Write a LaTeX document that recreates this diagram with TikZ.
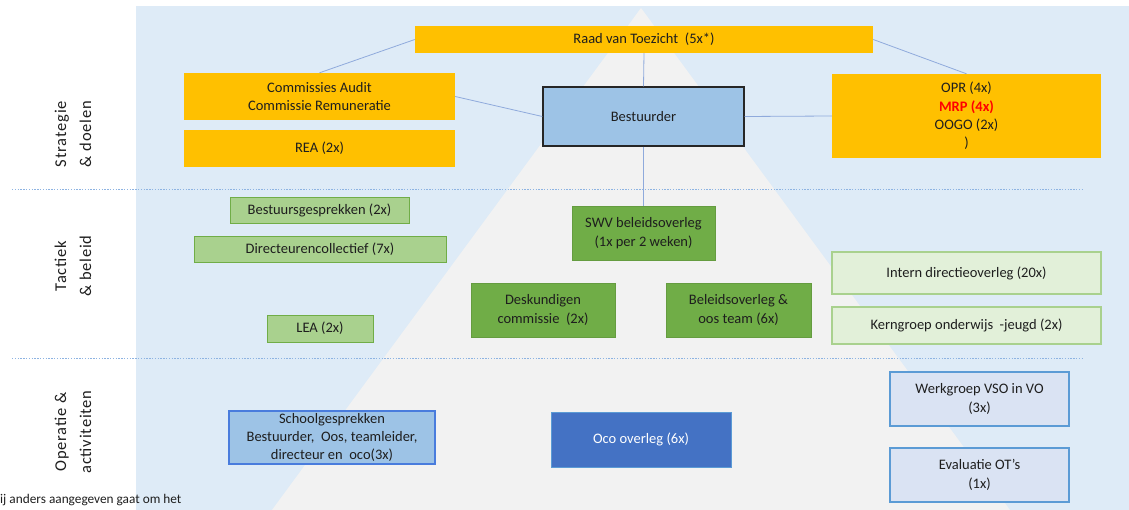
\documentclass[tikz,border=0pt]{standalone}
\usepackage{fontspec}
\setmainfont{Carlito}
\definecolor{bgblue}{HTML}{DEEBF7}
\definecolor{trigrey}{HTML}{F2F2F2}
\definecolor{orng}{HTML}{FFC000}
\definecolor{bestfill}{HTML}{9DC3E6}
\definecolor{dkgreen}{HTML}{70AD47}
\definecolor{ltgreen}{HTML}{A9D18E}
\definecolor{palegreen}{HTML}{E2F0D9}
\definecolor{midblue}{HTML}{5B9BD5}
\definecolor{ocoblue}{HTML}{4472C4}
\definecolor{lavender}{HTML}{DAE3F3}
\definecolor{connblue}{HTML}{8FAADC}
\definecolor{dotblue}{HTML}{8DB3E2}
\definecolor{txt}{HTML}{1E1E1E}
\definecolor{mrpred}{HTML}{FF0000}
\begin{document}
\begin{tikzpicture}[x=1pt,y=-1pt,
  basebox/.style={rectangle, inner sep=0pt, align=center, text=txt,
    font=\fontsize{14.5}{18.3}\selectfont},
  orangebox/.style={basebox, fill=orng},
  bestbox/.style={basebox, fill=bestfill, draw=black!85, line width=1.4pt},
  darkgreenbox/.style={basebox, fill=dkgreen, draw=dkgreen!90!black, line width=0.6pt},
  lightgreenbox/.style={basebox, fill=ltgreen, draw=dkgreen, line width=0.9pt},
  palegreenbox/.style={basebox, fill=palegreen, draw=ltgreen, line width=1.4pt},
  schoolbox/.style={basebox, fill=bestfill, draw=midblue!80!blue, line width=1.2pt},
  ocobox/.style={basebox, fill=ocoblue, draw=midblue, line width=0.8pt, text=white},
  lavbox/.style={basebox, fill=lavender, draw=midblue, line width=1.2pt},
  sidelab/.style={inner sep=0pt, align=center, text=txt,
    font=\fontsize{16.5}{25}\selectfont\addfontfeature{LetterSpace=5}},
  connector/.style={draw=connblue, line width=0.8pt},
  sepline/.style={draw=dotblue, line width=0.9pt, dash pattern=on 1.4pt off 1.4pt}
]
\useasboundingbox (0,0) rectangle (1129,510);
% backgrounds
\fill[bgblue] (136,6) rectangle (1129,510);
\begin{scope}
  \clip (0,0) rectangle (1129,510);
  \fill[trigrey] (641,8) -- (272,510) -- (1010,510) -- cycle;
\end{scope}
% separator lines
\draw[sepline] (12,189) -- (1082,189);
\draw[sepline] (12,358) -- (1084,358);
% side labels
\node[sidelab, rotate=90] (labA) at (73,134) {Strategie\\\& doelen};
\node[sidelab, rotate=90] (labB) at (73,266) {Tactiek\\\& beleid};
\node[sidelab, rotate=90] (labC) at (73,432) {Operatie \&\\activiteiten};
% strategy level
\node[orangebox, minimum width=458pt, minimum height=27pt] (raad) at (644,39.5) {Raad van Toezicht\ \ (5x*)};
\node[orangebox, minimum width=271pt, minimum height=47pt] (comm) at (319.5,96.5) {Commissies Audit\\Commissie Remuneratie};
\node[orangebox, minimum width=271pt, minimum height=37pt] (rea) at (319.5,148.5) {REA (2x)};
\node[bestbox, minimum width=201pt, minimum height=59pt] (best) at (643.5,116.5) {Bestuurder};
\node[orangebox, minimum width=269pt, minimum height=84pt] (opr) at (966.5,116) {OPR (4x)\\{\bfseries\color{mrpred}MRP (4x)}\\OOGO (2x)\\)};
% tactic level
\node[lightgreenbox, minimum width=179pt, minimum height=26pt] (bgesp) at (319.5,210) {Bestuursgesprekken (2x)};
\node[lightgreenbox, minimum width=252pt, minimum height=26pt] (dircol) at (320,249) {Directeurencollectief (7x)};
\node[lightgreenbox, minimum width=106pt, minimum height=27pt] (lea) at (320,328.5) {LEA (2x)};
\node[darkgreenbox, minimum width=143pt, minimum height=54pt] (swv) at (643.5,233) {SWV beleidsoverleg\\(1x per 2 weken)};
\node[darkgreenbox, minimum width=144pt, minimum height=54pt] (desk) at (543,310) {Deskundigen\\commissie\ \ (2x)};
\node[darkgreenbox, minimum width=145pt, minimum height=54pt] (beleid) at (738.5,310) {Beleidsoverleg \&\\oos team (6x)};
\node[palegreenbox, minimum width=269pt, minimum height=42pt] (intern) at (966.5,273) {Intern directieoverleg (20x)};
\node[palegreenbox, minimum width=269pt, minimum height=37pt] (kern) at (966.5,325.5) {Kerngroep onderwijs\ \ -jeugd (2x)};
% operational level
\node[schoolbox, minimum width=206pt, minimum height=53pt] (school) at (332,437.5) {Schoolgesprekken\\Bestuurder,\ \ Oos, teamleider,\\directeur en\ \ oco(3x)};
\node[ocobox, minimum width=180pt, minimum height=55pt] (oco) at (641,439.5) {Oco overleg (6x)};
\node[lavbox, minimum width=179pt, minimum height=54pt] (werk) at (979.5,399) {Werkgroep VSO in VO\\(3x)};
\node[lavbox, minimum width=179pt, minimum height=54pt] (eval) at (979.5,475) {Evaluatie OT’s\\(1x)};
% footnote fragment
\node[anchor=west, inner sep=0pt, text=txt, font=\fontsize{13.3}{15}\selectfont] (note) at (0,500) {ij anders aangegeven gaat om het};
% connectors
\draw[connector] (raad.west) -- (comm.north);
\draw[connector] (comm.east) -- (best.west);
\draw[connector] (raad.south) -- (best.north);
\draw[connector] (best.south) -- (swv.north);
\draw[connector] (best.east) -- (opr.west);
\draw[connector] (raad.east) -- (opr.north);
\end{tikzpicture}
\end{document}
